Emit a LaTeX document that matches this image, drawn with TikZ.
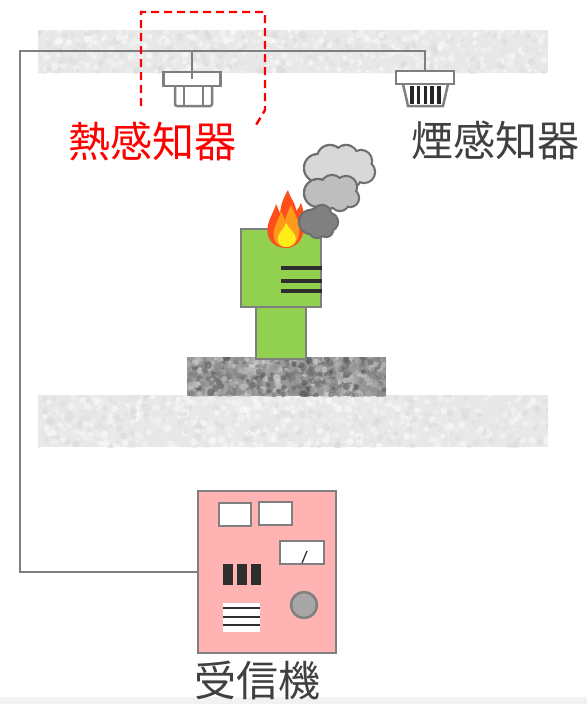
\documentclass[tikz,border=0pt]{standalone}
\usepackage{fontspec}
\newfontfamily\jp{Noto Sans CJK JP}
\usetikzlibrary{positioning}

\definecolor{wiregray}{HTML}{7F7F7F}
\definecolor{boxgreen}{HTML}{92D050}
\definecolor{panelpink}{HTML}{FFB3B3}
\definecolor{textgray}{HTML}{404040}
\definecolor{flamered}{HTML}{FF4E1A}
\definecolor{flameorange}{HTML}{FF9A1A}
\definecolor{flameyellow}{HTML}{FFEE1A}
\definecolor{smokelight}{HTML}{D8D8D8}
\definecolor{smokemid}{HTML}{BEBEBE}
\definecolor{smokedark}{HTML}{808080}
\definecolor{smokeline}{HTML}{6E6E6E}

\tikzset{
  wire/.style={draw=wiregray, line width=2.5pt},
  outline/.style={draw=wiregray, line width=2.5pt, inner sep=0pt},
  namefont/.style={font=\jp\fontsize{42}{48}\selectfont, inner sep=0pt},
}

% speckled concrete: x1 y1 x2 y2 count minshade maxshade
\newcommand\grain[7]{%
  \begin{scope}
    \clip (#1,#2) rectangle (#3,#4);
    \foreach \g in {1,...,#5}{
      \pgfmathsetmacro\gx{#1+(#3-#1)*rnd}
      \pgfmathsetmacro\gy{#2+(#4-#2)*rnd}
      \pgfmathtruncatemacro\gs{#6+(#7-#6)*rnd}
      \pgfmathsetmacro\gr{1.5+2.5*rnd}
      \fill[black!\gs, fill opacity=0.55] (\gx,\gy) circle[radius=\gr pt];
    }
  \end{scope}}

% smoke puff: fill colour, circles as x/y/r
\newcommand\puff[2]{%
  \foreach \cx/\cy/\cr in {#2}
    \fill[smokeline] (\cx,\cy) circle[radius=\cr pt+2.2pt];
  \foreach \cx/\cy/\cr in {#2}
    \fill[#1] (\cx,\cy) circle[radius=\cr pt];}

\begin{document}
\begin{tikzpicture}[x=1pt, y=-1pt]
  \useasboundingbox (0,0) rectangle (587,704);
  \pgfmathsetseed{11}
  \fill[black!5] (0,697) rectangle (587,704);

  % ceiling and floor slabs
  \fill[black!9] (38,30) rectangle (548,73);
  \grain{38}{30}{548}{73}{800}{0}{16}
  \fill[black!9] (38,395) rectangle (548,447);
  \grain{38}{395}{548}{447}{900}{0}{16}
  \fill[black!40] (187,357) rectangle (386,396);
  \grain{187}{357}{386}{396}{700}{15}{70}

  % heat detector
  \draw[outline, fill=white, rounded corners=2pt] (175,86) -- (175,106) -- (212,106) -- (212,86);
  \draw[outline] (184,86) -- (184,106) (203,86) -- (203,106);
  \node[outline, fill=white, minimum width=57pt, minimum height=14pt] (heat) at (192,79) {};

  % smoke detector
  \draw[outline, fill=white] (403,84) -- (408,106) -- (443,106) -- (448,84);
  \foreach \x in {412,418.7,...,440}
    \draw[line width=3.4pt, black!85] (\x,86) -- (\x,104);
  \node[outline, fill=white, minimum width=58pt, minimum height=13pt] (smoke) at (425,77.5) {};

  % receiver panel
  \node[outline, fill=panelpink, minimum width=138pt, minimum height=162pt] (recv) at (267,572) {};
  \draw[outline, fill=white] (219,503) rectangle (251,526);
  \draw[outline, fill=white] (259,502) rectangle (292,525);
  \draw[outline, fill=white] (280,541) rectangle (324,564);
  \draw[line width=1.3pt, black!80] (302,563) -- (307,551);
  \foreach \x in {223,237,251}
    \fill[black!82] (\x,564) rectangle ++(10,21);
  \fill[white] (223,603) rectangle (260,632);
  \foreach \y in {608,617,625}
    \draw[line width=2pt, black!82] (223,\y) -- (260,\y);
  \draw[outline, fill=black!35] (304,605) circle[radius=13pt];

  % wiring
  \coordinate (top) at (20,51);
  \draw[wire] (recv.west) -| (top) -| (smoke.north);
  \draw[wire] (heat.center) -- (heat.center |- top);

  % burning box
  \node[outline, fill=boxgreen, minimum width=50pt, minimum height=52pt] (stem) at (281,333) {};
  \node[outline, fill=boxgreen, minimum width=80pt, minimum height=78pt] (body) at (281,268) {};
  \foreach \y in {268,281,291}
    \draw[line width=4pt, black!82] (281,\y) -- (body.east |- 0,\y);

  % flame
  \fill[flamered] (286,248) .. controls (273,248) and (265,238) .. (268,225)
    .. controls (270,216) and (274,212) .. (276,204)
    .. controls (278,208) and (279,211) .. (280,213)
    .. controls (281,203) and (284,197) .. (288,190)
    .. controls (290,198) and (296,203) .. (296,211)
    .. controls (299,208) and (300,206) .. (301,203)
    .. controls (305,214) and (306,224) .. (303,234)
    .. controls (300,243) and (294,248) .. (286,248);
  \fill[flameorange] (286,247) .. controls (277,247) and (272,240) .. (274,230)
    .. controls (276,222) and (280,217) .. (281,211)
    .. controls (283,215) and (284,218) .. (285,220)
    .. controls (287,214) and (289,209) .. (291,205)
    .. controls (294,214) and (301,222) .. (299,234)
    .. controls (298,242) and (293,247) .. (286,247);
  \fill[flameyellow] (286,247) .. controls (280,247) and (277,243) .. (278,237)
    .. controls (279,232) and (284,229) .. (286,223)
    .. controls (289,229) and (296,233) .. (296,239)
    .. controls (296,244) and (291,247) .. (286,247);

  % smoke
  \puff{smokelight}{318/168/13, 330/158/12, 346/157/11, 361/161/10, 364/172/10,
    352/178/8, 335/178/8, 320/176/8, 342/168/14}
  \puff{smokemid}{318/193/13, 332/186/10, 346/187/10, 350/198/8, 340/202/8,
    325/203/7, 333/195/12}
  \puff{smokedark}{311/222/11, 322/214/8, 329/222/8, 326/230/6, 317/230/7, 318/221/12}

  % outline around the heat detector
  \draw[red, line width=2.4pt, dash pattern=on 8pt off 5pt] (141,106) -- (141,12) -- (265,12)
    -- (265,110) -- (256,125);

  % names
  \node[namefont, text=red] (heatname) at (152,141) {熱感知器};
  \node[namefont, text=textgray] (smokename) at (495,140) {煙感知器};
  \node[namefont, text=textgray, anchor=north] (recvname) at (257,661) {受信機};
\end{tikzpicture}
\end{document}
